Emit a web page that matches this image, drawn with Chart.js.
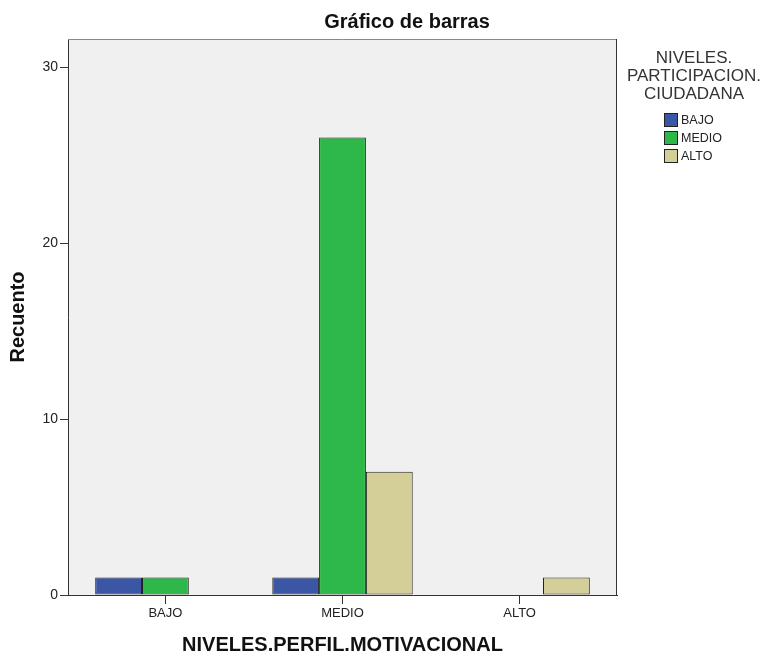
<!DOCTYPE html>
<html>
<head>
<meta charset="utf-8">
<script src="https://cdn.jsdelivr.net/npm/chart.js@4"></script>
<style>
  html, body { margin: 0; padding: 0; background: #fff; }
  #wrap { width: 762px; height: 657px; }
</style>
</head>
<body>
<div id="wrap"><canvas id="chart" width="762" height="657"></canvas></div>
<script>
// Chart data
const categories = ['BAJO', 'MEDIO', 'ALTO'];
const seriesNames = ['BAJO', 'MEDIO', 'ALTO'];
const bajoSeries = [1, 1, 0];   // blue, per category
const medioSeries = [1, 26, 0]; // green, per category
const altoSeries = [0, 7, 1];   // tan, per category
const yTicks = [0, 10, 20, 30];

const chartTitle = 'Gráfico de barras';
const legendTitle = ['NIVELES.', 'PARTICIPACION.', 'CIUDADANA'];
const xTitle = 'NIVELES.PERFIL.MOTIVACIONAL';
const yTitle = 'Recuento';

const colors = ['#3c56a6', '#2fb84a', '#d4cf98'];
const FONT = '"Liberation Sans", Arial, sans-serif';

const seriesValues = [bajoSeries, medioSeries, altoSeries];

const datasets = seriesNames.map((name, s) => ({
    label: name,
    data: categories.map((c, i) => ({ x: i, y: seriesValues[s][i] })),
    backgroundColor: colors[s],
    borderColor: '#222',
    borderWidth: 1,
    borderSkipped: false,
    categoryPercentage: 0.793,
    barPercentage: 1
}));

// Plot background, frame, title and legend
const decorPlugin = {
    id: 'decor',
    beforeDraw(chart) {
        const { ctx, chartArea: a } = chart;
        ctx.save();
        ctx.fillStyle = '#f0f0f0';
        ctx.fillRect(a.left, a.top, a.right - a.left, a.bottom - a.top);
        ctx.restore();
    },
    afterDraw(chart) {
        const { ctx, chartArea: a } = chart;
        ctx.save();
        // frame
        ctx.lineWidth = 1;
        ctx.strokeStyle = '#888';
        ctx.beginPath();
        ctx.moveTo(a.left, a.top + 0.5);
        ctx.lineTo(a.right, a.top + 0.5);
        ctx.stroke();
        ctx.strokeStyle = '#333';
        ctx.beginPath();
        ctx.moveTo(a.right - 0.5, a.top);
        ctx.lineTo(a.right - 0.5, a.bottom);
        ctx.stroke();

        // title
        ctx.fillStyle = '#111';
        ctx.font = 'bold 20px ' + FONT;
        ctx.textAlign = 'center';
        ctx.textBaseline = 'middle';
        ctx.fillText(chartTitle, 407, 22);

        // legend
        ctx.fillStyle = '#333';
        ctx.font = '17px ' + FONT;
        legendTitle.forEach((line, i) => ctx.fillText(line, 694, 58 + i * 18));

        ctx.font = '12.5px ' + FONT;
        ctx.textAlign = 'left';
        chart.data.datasets.forEach((ds, i) => {
            const y = 120 + i * 18;
            ctx.fillStyle = ds.backgroundColor;
            ctx.fillRect(665, y - 6, 12, 12);
            ctx.strokeStyle = '#222';
            ctx.strokeRect(664.5, y - 6.5, 13, 13);
            ctx.fillStyle = '#222';
            ctx.fillText(ds.label, 681, y + 1);
        });
        ctx.restore();
    }
};

new Chart(document.getElementById('chart'), {
    type: 'bar',
    data: { datasets: datasets },
    plugins: [decorPlugin],
    options: {
        responsive: false,
        animation: false,
        layout: { padding: { left: 0, right: 145, top: 39, bottom: 0 } },
        plugins: {
            legend: { display: false },
            tooltip: { enabled: false }
        },
        scales: {
            x: {
                type: 'linear',
                offset: false,
                min: -0.55,
                max: 2.55,
                afterBuildTicks: (scale) => {
                    scale.ticks = categories.map((c, i) => ({ value: i }));
                },
                afterFit: (scale) => { scale.height = 62; },
                ticks: {
                    callback: (v) => categories[v],
                    color: '#222',
                    font: { family: FONT, size: 13 },
                    padding: 2,
                    maxRotation: 0
                },
                grid: { offset: false, drawOnChartArea: false, tickLength: 9, color: '#333' },
                border: { color: '#333' },
                title: {
                    display: true,
                    text: xTitle,
                    color: '#111',
                    font: { family: FONT, size: 20, weight: 'bold' },
                    padding: { top: 0, bottom: 0 }
                }
            },
            y: {
                min: 0,
                max: 31.6,
                afterBuildTicks: (scale) => {
                    scale.ticks = yTicks.map(v => ({ value: v }));
                },
                afterFit: (scale) => { scale.width = 68; },
                ticks: {
                    color: '#222',
                    font: { family: FONT, size: 14 },
                    padding: 2
                },
                grid: { drawOnChartArea: false, tickLength: 8, color: '#333' },
                border: { color: '#333' },
                title: {
                    display: true,
                    text: yTitle,
                    color: '#111',
                    font: { family: FONT, size: 20, weight: 'bold' },
                    padding: { top: 6, bottom: 0 }
                }
            }
        }
    }
});
</script>
</body>
</html>
